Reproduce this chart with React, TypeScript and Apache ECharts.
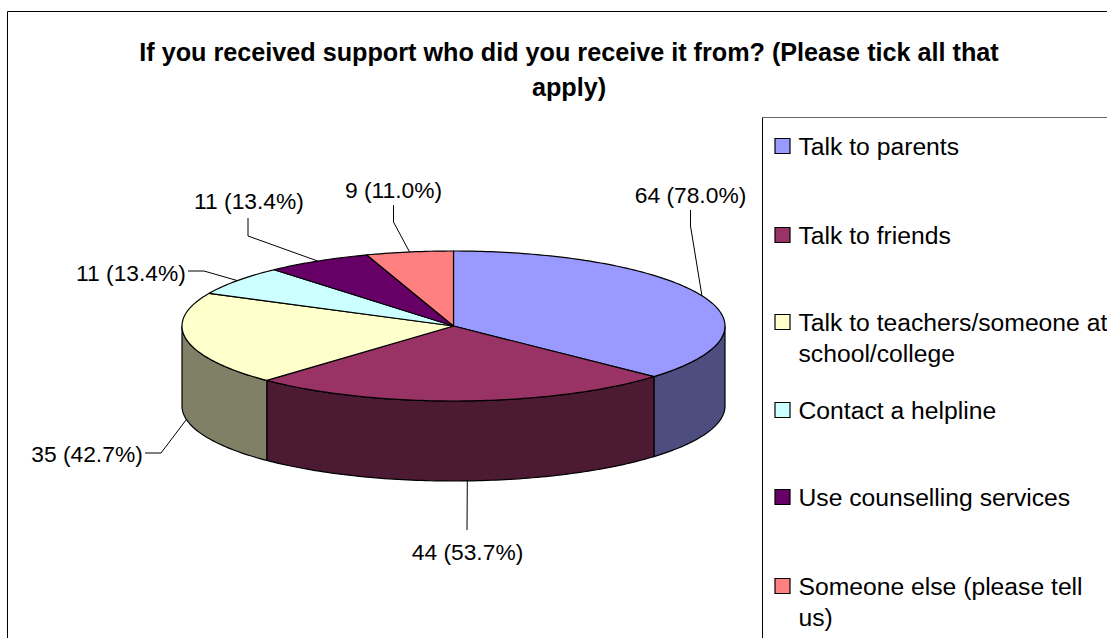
import React, { useEffect, useRef } from "react";
import * as echarts from "echarts";

const categories = [
  "Talk to parents",
  "Talk to friends",
  "Talk to teachers/someone at\nschool/college",
  "Contact a helpline",
  "Use counselling services",
  "Someone else (please tell\nus)",
];
const counts = [64, 44, 35, 11, 11, 9];
const percents = ["78.0", "53.7", "42.7", "13.4", "13.4", "11.0"];
const topColors = ["#9999FF", "#993366", "#FFFFCC", "#CCFFFF", "#660066", "#FF8080"];
const sideColors = ["#4D4D80", "#4D1A33", "#808066", "#668080", "#330033", "#804040"];
const titleText = "If you received support who did you receive it from? (Please tick all that\napply)";

const FONT = '"Liberation Sans", Arial, sans-serif';
const CX = 453.5, CY = 326, RX = 271.5, RY = 75, DEPTH = 80;
const labelLayout = [
  { x: 690.5, y: 195, elbow: [690.5, 226], start: [690.5, 210], dx: 0 },
  { x: 467.5, y: 552, elbow: [467, 530], start: [467, 530], dx: 4 },
  { x: 87, y: 454, elbow: [161, 453], start: [145, 453], dx: 0 },
  { x: 131, y: 273, elbow: [204, 271], start: [188, 271], dx: 0 },
  { x: 249, y: 201, elbow: [248, 236], start: [248, 218], dx: 0 },
  { x: 393.5, y: 190, elbow: [393.5, 222], start: [393.5, 205], dx: 0 },
];
const legendRows = [146, 235, 322, 410, 497, 586];

const total = counts.reduce((a, b) => a + b, 0);
const startAngles = counts.map((_, i) =>
  (counts.slice(0, i).reduce((a, b) => a + b, 0) / total) * 360);
const pt = (deg: number, dy = 0): number[] => {
  const t = (deg * Math.PI) / 180;
  return [CX + RX * Math.sin(t), CY - RY * Math.cos(t) + dy];
};
const arcPts = (a: number, b: number, dy = 0): number[][] => {
  const n = Math.max(2, Math.ceil(Math.abs(b - a)));
  const out: number[][] = [];
  for (let k = 0; k <= n; k++) out.push(pt(a + ((b - a) * k) / n, dy));
  return out;
};
const seriesData = counts.map((v, i) => ({ name: categories[i], value: v }));

const sideItem = (params: any, api: any) => {
  const i = params.dataIndex;
  const a = startAngles[i];
  const b = a + (api.value(0) / total) * 360;
  const lo = Math.max(a, 90), hi = Math.min(b, 270);
  if (hi <= lo) return { type: "group", children: [] };
  return {
    type: "polygon",
    shape: { points: [...arcPts(lo, hi), ...arcPts(hi, lo, DEPTH)] },
    style: { fill: sideColors[i], stroke: "#000", lineWidth: 1.2, lineJoin: "round" },
  };
};
const topItem = (params: any, api: any) => {
  const i = params.dataIndex;
  const a = startAngles[i];
  const b = a + (api.value(0) / total) * 360;
  return {
    type: "polygon",
    shape: { points: [[CX, CY], ...arcPts(a, b)] },
    style: { fill: topColors[i], stroke: "#000", lineWidth: 1.2, lineJoin: "round" },
  };
};
const labelItem = (params: any, api: any) => {
  const i = params.dataIndex;
  const v = api.value(0);
  const mid = startAngles[i] + (v / total) * 180;
  const front = mid > 140 && mid < 270;
  const base = pt(mid, front ? DEPTH : 0);
  const l = labelLayout[i];
  const anchor = [base[0] + l.dx, base[1]];
  return {
    type: "group",
    children: [
      {
        type: "polyline",
        shape: { points: [l.start, l.elbow, anchor] },
        style: { fill: "none", stroke: "#000", lineWidth: 1 },
      },
      {
        type: "text",
        style: {
          text: `${v} (${percents[i]}%)`,
          x: l.x, y: l.y,
          align: "center", verticalAlign: "middle",
          font: `22.8px ${FONT}`, fill: "#000",
        },
      },
    ],
  };
};

const legendGraphics = categories.flatMap((name, i) => [
  {
    type: "rect",
    shape: { x: 775, y: legendRows[i] - 7.5, width: 15, height: 15 },
    style: { fill: topColors[i], stroke: "#000", lineWidth: 1.2 },
  },
  {
    type: "text",
    style: {
      text: name, x: 798.5, y: legendRows[i] - 15.5,
      font: `24.7px ${FONT}`, lineHeight: 31, fill: "#000",
      align: "left", verticalAlign: "top",
    },
  },
]);

export default function App() {
  const ref = useRef<HTMLDivElement>(null);
  useEffect(() => {
    document.body.style.margin = "0";
    document.body.style.overflow = "hidden";
    const chart = echarts.init(ref.current!, undefined, { renderer: "svg" });
    chart.setOption({
      animation: false,
      backgroundColor: "#fff",
      title: {
        text: titleText,
        left: 564, top: 29,
        textAlign: "center",
        textStyle: { fontFamily: FONT, fontWeight: "bold", fontSize: 25.2, lineHeight: 35, color: "#000" },
      },
      series: [
        { type: "custom", coordinateSystem: "none", name: "sides", data: seriesData, renderItem: sideItem, silent: true, z: 2 },
        { type: "custom", coordinateSystem: "none", name: "tops", data: seriesData, renderItem: topItem, silent: true, z: 3 },
        { type: "custom", coordinateSystem: "none", name: "labels", data: seriesData, renderItem: labelItem, silent: true, z: 4 },
      ],
      graphic: [
        { type: "line", shape: { x1: 7.5, y1: 11.5, x2: 1107, y2: 11.5 }, style: { stroke: "#000", lineWidth: 1 } },
        { type: "line", shape: { x1: 7.5, y1: 11.5, x2: 7.5, y2: 638 }, style: { stroke: "#000", lineWidth: 1 } },
        { type: "line", shape: { x1: 762.5, y1: 117.5, x2: 1107, y2: 117.5 }, style: { stroke: "#666", lineWidth: 1 } },
        { type: "line", shape: { x1: 762.5, y1: 117.5, x2: 762.5, y2: 638 }, style: { stroke: "#000", lineWidth: 1 } },
        ...legendGraphics,
      ],
    });
    return () => chart.dispose();
  }, []);
  return <div ref={ref} style={{ width: 1107, height: 638 }} />;
}
